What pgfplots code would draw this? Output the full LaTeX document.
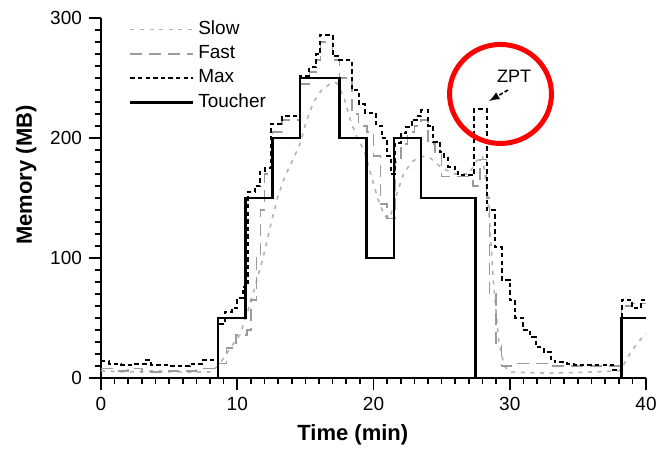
\documentclass[border=0pt]{standalone}
\usepackage{fontspec}
\setmainfont{Liberation Sans}
\usepackage{pgfplots}
\pgfplotsset{compat=1.18}
\definecolor{slowc}{RGB}{180,180,180}
\definecolor{fastc}{RGB}{155,155,155}
\begin{document}
\begin{tikzpicture}
\begin{axis}[
 scale only axis, width=272.5pt, height=180pt,
 xmin=0, xmax=40, ymin=0, ymax=300,
 axis lines=left, axis line style={-, line width=1pt},
 xtick={0,10,20,30,40}, ytick={0,100,200,300},
 minor tick num=9,
 tick align=outside,
 major tick length=6pt, minor tick length=3pt,
 tick style={black, line width=0.8pt},
 tick label style={font=\fontsize{9.5}{11}\selectfont},
 /pgf/number format/assume math mode=true,
 xlabel={Time (min)}, ylabel={Memory (MB)},
 label style={font=\bfseries\fontsize{11}{13}\selectfont},
 xlabel style={at={(ticklabel cs:0.462)}},
 ylabel style={at={(ticklabel cs:0.564)}},
 clip=false,
 legend style={draw=none, fill=none, at={(0.04,1.015)}, anchor=north west,
   font=\fontsize{9.5}{12}\selectfont, row sep=0pt, cells={anchor=west}},
 legend image code/.code={\draw[#1] (0cm,0cm) -- (1.1cm,0cm);},
]
% Slow
\addplot[slowc, line width=0.8pt, dash pattern=on 2pt off 2.8pt] coordinates {
(0,6) (2,5) (4,6) (6,5) (8,5) (8.6,10) (9.2,20) (9.8,30) (10.2,36) (10.9,60) (11.4,80)
(12,105) (12.5,130) (13.0,152) (13.5,168) (14,180) (14.6,195) (15.1,215) (15.6,230)
(16.2,240) (16.8,245) (17.3,246) (17.8,235) (18.3,215) (18.8,200) (19.3,190) (19.8,170)
(20.3,150) (20.8,135) (21.2,133) (21.6,150) (22.2,170) (22.8,180) (23.5,185) (24.2,183)
(25,175) (26,170) (27,170) (27.5,180) (28,185) (28.4,150) (28.8,80) (29.2,30) (29.6,10)
(30,5) (33,4) (36,5) (38,6) (38.3,10) (38.8,20) (39.3,28) (39.8,35) (40,37)
};
\addlegendentry{Slow}
% Fast
\addplot[fastc, line width=0.8pt, dash pattern=on 6pt off 3.5pt, const plot] coordinates {
(0,8) (1,6) (2,8) (3,5) (5,6) (7,8) (8.6,12) (9.2,25) (9.9,36) (10.7,40) (11.0,65)
(11.4,100) (11.7,140) (12.0,170) (12.6,205) (13.3,215) (14.6,245) (15.3,255) (15.8,265)
(16.1,280) (17.0,265) (17.5,250) (18.4,220) (18.9,210) (19.5,205) (20.0,185) (20.5,145)
(21.0,133) (21.6,180) (22.0,195) (22.5,205) (23.0,210) (23.5,215) (24.0,195) (24.5,188)
(25.0,168) (27.3,160) (27.8,182) (28.3,150) (28.5,70) (29.0,29) (29.4,10) (30.1,12)
(33,10) (38.2,60) (39,62) (40,62)
};
\addlegendentry{Fast}
% Max
\addplot[black, line width=1pt, dash pattern=on 2.2pt off 1.6pt, const plot] coordinates {
(0,14) (0.6,12) (1.5,11) (2.5,12) (3.3,15) (3.7,11) (5,10) (6.5,12) (7.5,15) (8.6,45)
(9.1,55) (9.6,58) (10.0,67) (10.4,76) (10.8,155) (11.3,160) (11.7,172) (12.0,175)
(12.5,212) (13.3,218) (14.6,252) (15.3,259) (15.8,270) (16.1,286) (17.0,268) (17.5,265)
(18.4,240) (18.9,228) (19.4,221) (20.2,210) (20.6,200) (21.0,185) (21.3,170) (21.6,196)
(22.0,204) (22.4,209) (22.8,215) (23.2,218) (23.5,223) (24.0,210) (24.4,197) (24.9,188)
(25.2,183) (25.5,176) (26.0,172) (26.2,169) (27.4,224) (28.3,140) (28.9,109) (29.4,82)
(30.0,65) (30.4,50) (31.0,40) (31.5,34) (31.9,26) (32.5,22) (33.0,16) (33.3,13)
(34.2,12) (34.7,11) (37.6,7) (38.2,65) (39.0,58) (39.6,65) (40,65)
};
\addlegendentry{Max}
% Toucher
\addplot[black, line width=1.25pt] coordinates {
(0,0) (8.6,0) (8.6,50) (10.6,50) (10.6,150) (12.6,150) (12.6,200) (14.6,200) (14.6,250)
(17.5,250) (17.5,200) (19.5,200) (19.5,100) (21.5,100) (21.5,200) (23.5,200) (23.5,150)
(27.5,150) (27.5,0) (38.2,0) (38.2,50) (40,50)
};
\addlegendentry{Toucher}
% annotation
\node[font=\fontsize{9}{11}\selectfont] at (axis cs:30.31,251.3) {ZPT};
\draw[black, line width=0.8pt, dash pattern=on 2pt off 1pt, -latex] (axis cs:29.87,240) -- (axis cs:28.48,230.8);
\draw[red, line width=2.5pt] (axis cs:29.32,236.7) ellipse [x radius=3.74, y radius=41.25];
\coordinate (BL) at (rel axis cs:-0.1853,-0.2167);
\coordinate (TR) at (rel axis cs:1.0183,1.05);
\end{axis}
\pgfresetboundingbox
\path[use as bounding box] (BL) rectangle (TR);
\end{tikzpicture}
\end{document}
